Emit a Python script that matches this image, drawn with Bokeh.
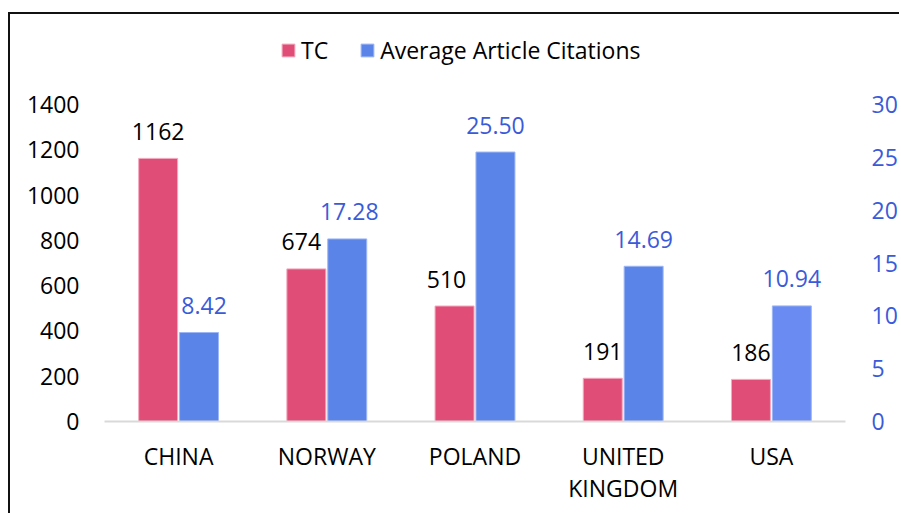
from bokeh.plotting import figure
from bokeh.models import (ColumnDataSource, Range1d, LinearAxis, FixedTicker,
                          Legend, LegendItem)
from bokeh.core.properties import value
from bokeh.embed import file_html
from bokeh.resources import INLINE

# ---- data ----
countries = ["CHINA", "NORWAY", "POLAND", "UNITED KINGDOM", "USA"]
label_line1 = ["CHINA", "NORWAY", "POLAND", "UNITED", "USA"]
label_line2 = ["", "", "", "KINGDOM", ""]
tc = [1162, 674, 510, 191, 186]
avg_citations = [8.42, 17.28, 25.50, 14.69, 10.94]
left_ticks = [0, 200, 400, 600, 800, 1000, 1200, 1400]
right_ticks = [0, 5, 10, 15, 20, 25, 30]
LEFT_MAX = 1400
RIGHT_MAX = 30

FONT = "Open Sans"
FS = "23px"
PINK = "#E04E78"
BLUE = "#5B84E8"
LABEL_BLUE = "#3A5BD9"

# layout geometry (pixels): frame spans the legend strip too, so the
# value scale occupies only the lower SCALE_H pixels of the FRAME_H frame
FRAME_H = 407
SCALE_H = 317
CANVAS_W, CANVAS_H = 891, 501

W = 0.263
OFF = 0.138
centers = list(range(len(countries)))

src = ColumnDataSource(dict(
    cat=countries,
    x_tc=[c - OFF for c in centers],
    x_avg=[c + OFF for c in centers],
    tc=tc,
    avg=avg_citations,
    tc_txt=[str(v) for v in tc],
    avg_txt=["%.2f" % v for v in avg_citations],
    blue_fill=[BLUE, BLUE, BLUE, BLUE, "#6A8CF2"],
    tc_dx=[0, -5, -8, 0, 0],
    avg_dx=[5, 2, 0, 0, 0],
))

p = figure(x_range=Range1d(-0.5, len(countries) - 0.5),
           y_range=Range1d(0, LEFT_MAX * FRAME_H / SCALE_H),
           width=CANVAS_W, height=CANVAS_H,
           output_backend="svg", toolbar_location=None,
           min_border_left=94, min_border_right=56,
           min_border_top=0, min_border_bottom=CANVAS_H - FRAME_H,
           styles={"border-left": "2px solid #111", "border-top": "2px solid #111",
                   "margin-top": "12px", "margin-left": "8px"})
p.extra_y_ranges = {"right": Range1d(0, RIGHT_MAX * FRAME_H / SCALE_H)}
p.outline_line_color = None
p.xgrid.visible = False
p.ygrid.visible = False
p.background_fill_color = "white"
p.border_fill_color = "white"

r_tc = p.vbar(x="x_tc", top="tc", width=W, source=src,
              fill_color=PINK, line_color="#F3A9BE", line_width=1)
r_avg = p.vbar(x="x_avg", top="avg", width=W, source=src,
               y_range_name="right", fill_color="blue_fill", line_color="#9DB6F5", line_width=1)

p.text(x="x_tc", y="tc", text="tc_txt", source=src,
       x_offset="tc_dx", y_offset=-27, text_align="center", text_baseline="middle",
       text_font=value(FONT), text_font_size=FS, text_color="#000000")
p.text(x="x_avg", y="avg", text="avg_txt", source=src,
       y_range_name="right",
       x_offset="avg_dx", y_offset=-27, text_align="center", text_baseline="middle",
       text_font=value(FONT), text_font_size=FS, text_color=LABEL_BLUE)

def style_axis(ax, color, standoff):
    ax.axis_line_color = None
    ax.major_tick_line_color = None
    ax.minor_tick_line_color = None
    ax.major_tick_out = 0
    ax.major_tick_in = 0
    ax.minor_tick_out = 0
    ax.minor_tick_in = 0
    ax.major_label_standoff = standoff
    ax.major_label_text_font = FONT
    ax.major_label_text_font_size = FS
    ax.major_label_text_color = color

# x axis (two stacked label rows)
xa = p.xaxis[0]
style_axis(xa, "#000000", 18)
xa.axis_line_color = "#D9D9D9"
xa.axis_line_width = 2
xa.ticker = FixedTicker(ticks=centers)
xa.major_label_overrides = {c: t for c, t in zip(centers, label_line1)}

xa2 = LinearAxis(ticker=FixedTicker(ticks=centers))
style_axis(xa2, "#000000", -3)
xa2.major_label_overrides = {c: t for c, t in zip(centers, label_line2)}
p.add_layout(xa2, "below")

ya = p.yaxis[0]
ya.ticker = FixedTicker(ticks=left_ticks)
style_axis(ya, "#000000", 25)

ra = LinearAxis(y_range_name="right", ticker=FixedTicker(ticks=right_ticks))
style_axis(ra, LABEL_BLUE, 26)
p.add_layout(ra, "right")

legend = Legend(items=[LegendItem(label="TC", renderers=[r_tc]),
                       LegendItem(label="Average Article Citations", renderers=[r_avg])],
                orientation="horizontal", location=(176, 355),
                label_text_font=FONT, label_text_font_size=FS,
                label_text_color="#000000",
                glyph_width=16, glyph_height=16, spacing=31, padding=0, margin=0,
                label_standoff=5, border_line_color=None, background_fill_alpha=0)
p.add_layout(legend, "center")

open("out.html", "w").write(file_html(p, INLINE))
